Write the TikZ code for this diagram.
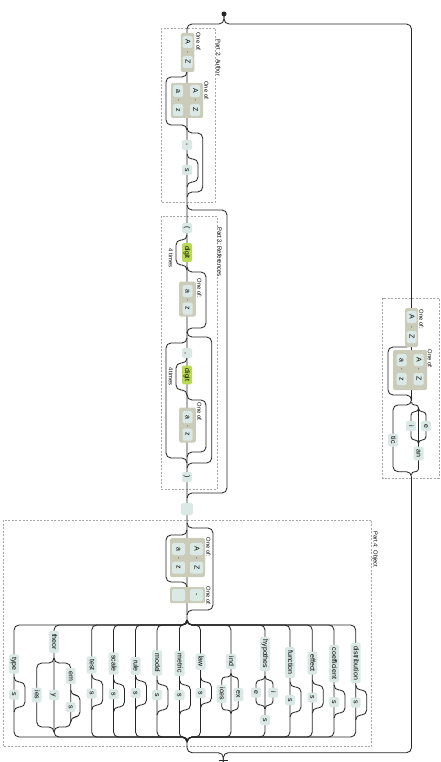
\documentclass[tikz,border=0pt]{standalone}
\usepackage{fontspec}
\setmainfont{Liberation Sans}
\usetikzlibrary{backgrounds}
\definecolor{litc}{HTML}{DAE9E5}
\definecolor{setc}{HTML}{CBCBBA}
\definecolor{escc}{HTML}{BADA55}
\tikzset{
 rail/.style={draw=black!85, line width=0.85pt, rounded corners=5pt},
 lit/.style={fill=litc, rounded corners=1.5pt, rotate=-90, inner xsep=3pt, inner ysep=0pt, minimum width=10pt, minimum height=10pt, text height=5pt, text depth=1.3pt, font=\fontsize{7}{8}\selectfont},
 item/.style={lit, minimum width=12pt},
 esc/.style={lit, fill=escc},
 cset/.style={fill=setc, rounded corners=1.5pt, rotate=-90, inner sep=0pt},
 lbl/.style={rotate=-90, inner sep=0pt, font=\fontsize{5.8}{6}\selectfont},
 dsym/.style={rotate=-90, inner sep=0pt, font=\fontsize{5}{6}\selectfont},
 subbox/.style={draw=black!35, dash pattern=on 2pt off 1.5pt, line width=0.5pt},
}
\begin{document}
\begin{tikzpicture}[x=1pt,y=-1pt]
\useasboundingbox (0,0) rectangle (440,762);
\begin{scope}[on background layer]
 % group boxes
 \draw[subbox] (161,28) rectangle (215,202);
 \draw[subbox] (161,216) rectangle (217,489);
 \draw[subbox] (3.3,520) rectangle (371.7,746.7);
 \draw[subbox] (382.7,298) rectangle (439,478);
 % top split and main lines
 \draw[rail] (224,14) -- (224,24) -- (187,24) -- (187,620);
 \draw[rail] (224,14) -- (224,24) -- (411.5,24) -- (411.5,400);
 \draw[rail] (187,742) -- (187,752.7) -- (223.3,752.7) -- (223.3,762);
 \draw[rail] (411.5,477) -- (411.5,752.7) -- (223.3,752.7) -- (223.3,762);
 % Part 2
 \draw[rail] (187,72) -- (187,77) -- (166,77) -- (166,125) -- (187,125) -- (187,130);
 \draw[rail] (187,128) -- (187,133) -- (202.7,133) -- (202.7,192) -- (187,192) -- (187,197);
 \draw[rail] (187,154) -- (187,159) -- (198,159) -- (198,182) -- (187,182) -- (187,187);
 % Part 3
 \draw[rail] (187,205) -- (187,210) -- (227,210) -- (227,493) -- (187,493) -- (187,498);
 \draw[rail] (187,235) -- (187,240) -- (176,240) -- (176,265) -- (187,265) -- (187,270);
 \draw[rail] (187,267) -- (187,272) -- (206,272) -- (206,328) -- (187,328) -- (187,333);
 \draw[rail] (187,332) -- (187,337) -- (211.7,337) -- (211.7,463) -- (187,463) -- (187,468);
 \draw[rail] (187,338) -- (187,343) -- (166,343) -- (166,458) -- (187,458) -- (187,463);
 \draw[rail] (187,358) -- (187,363) -- (176,363) -- (176,390) -- (187,390) -- (187,395);
 \draw[rail] (187,395) -- (187,400) -- (206,400) -- (206,452) -- (187,452) -- (187,457);
 % Part 4
 \draw[rail] (187,523) -- (187,528) -- (213,528) -- (213,610) -- (187,610) -- (187,615);
 \draw[rail] (187,530) -- (187,535) -- (166,535) -- (166,582) -- (187,582) -- (187,587);
 \foreach \xb/\rr in {14/5, 54/5, 91.7/5, 113.5/5, 135.5/5, 157/5, 179.5/3.5, 200.5/5, 231/5, 265/5, 290/5, 312.3/5, 334/5, 355.7/5}{
   \draw[rail, rounded corners=\rr pt] (187,625-\rr) -- (187,625) -- (\xb,625) -- (\xb,737) -- (187,737) -- (187,737+\rr);
 }
 \foreach \xb/\ya/\yb in {14/682/707, 91.7/680/705, 113.5/684/707, 135.5/681/705, 157/685/710, 179.5/685/710, 200.5/682/703, 290/687/712, 312.3/685/708, 334/690/713, 355.7/690/715}{
   \draw[rail] (\xb,\ya-5) -- (\xb,\ya) -- (\xb+11,\ya) -- (\xb+11,\yb) -- (\xb,\yb) -- (\xb,\yb+5);
 }
 % theor nested choice
 \foreach \xb in {70.7, 36.7}{
   \draw[rail] (54,658) -- (54,663) -- (\xb,663) -- (\xb,727) -- (54,727) -- (54,732);
 }
 \draw[rail] (70.7,690) -- (70.7,695) -- (80,695) -- (80,717) -- (70.7,717) -- (70.7,722);
 % ind nested choice
 \foreach \xb in {238.3, 221.7}{
   \draw[rail, rounded corners=3.5pt] (231,673.5) -- (231,677) -- (\xb,677) -- (\xb,710) -- (231,710) -- (231,713.5);
 }
 % hypothes nested choice
 \foreach \xb in {273, 256}{
   \draw[rail, rounded corners=4pt] (265,676) -- (265,680) -- (\xb,680) -- (\xb,705) -- (265,705) -- (265,709);
 }
 % Part 5
 \draw[rail] (411.5,342) -- (411.5,347) -- (388,347) -- (388,395) -- (411.5,395) -- (411.5,400);
 \draw[rail] (411.5,400) -- (411.5,405) -- (393,405) -- (393,471.7) -- (411.5,471.7) -- (411.5,476.7);
 \draw[rail, rounded corners=3pt] (411.5,402) -- (411.5,405) -- (418.5,405) -- (418.5,471.7) -- (411.5,471.7) -- (411.5,474.7);
 \foreach \xb in {426, 411}{
   \draw[rail, rounded corners=3.5pt] (418.5,408.2) -- (418.5,411.7) -- (\xb,411.7) -- (\xb,440) -- (418.5,440) -- (418.5,443.5);
 }
 \draw[black!85, line width=0.85pt] (219,760.5) -- (227.6,760.5);
\end{scope}
% start
\node[circle, fill=black!85, inner sep=0pt, minimum size=5pt] (start) at (224,14) {};
% ---------- Part 2
\node[lbl] (p2) at (218.5,58) {Part 2: Author};
\node[cset, minimum width=39pt, minimum height=13.5pt] (cs1) at (187.5,52.5) {};
\node[item] (cs1a) at (187.5,42) {A};
\node[dsym] (cs1d) at (187.5,52) {-};
\node[item] (cs1b) at (187.5,62) {Z};
\node[lbl] (cs1l) at (198.5,42) {One of:};
\node[cset, minimum width=35pt, minimum height=32.3pt] (cs2) at (187,100.5) {};
\node[item] (cs2a) at (195,91) {A};
\node[dsym] (cs2d) at (195,100.5) {-};
\node[item] (cs2b) at (195,110) {Z};
\node[item] (cs2c) at (178,91) {a};
\node[dsym] (cs2e) at (178,100.5) {-};
\node[item] (cs2f) at (178,110) {z};
\node[lbl] (cs2l) at (206.5,91) {One of:};
\node[lit] (hy) at (187,145) {-};
\node[lit] (s2) at (187,170) {s};
% ---------- Part 3
\node[lbl] (p3) at (219.7,252) {Part 3: References};
\node[lit] (lp) at (187,228) {(};
\node[esc] (dg1) at (187,252.5) {digit};
\node[lbl] (t1) at (171,258) {4 times};
\node[cset, minimum width=35pt, minimum height=16.7pt] (cs3) at (187.5,299) {};
\node[item] (cs3a) at (187.5,291) {a};
\node[dsym] (cs3d) at (187.5,300) {-};
\node[item] (cs3b) at (187.5,308.5) {z};
\node[lbl] (cs3l) at (199.5,288.5) {One of:};
\node[lit] (cm) at (187,353) {,};
\node[esc] (dg2) at (187,375) {digit};
\node[lbl] (t2) at (171,376.5) {4 times};
\node[cset, minimum width=35pt, minimum height=16.7pt] (cs4) at (187.5,425) {};
\node[item] (cs4a) at (187.5,417) {a};
\node[dsym] (cs4d) at (187.5,426) {-};
\node[item] (cs4b) at (187.5,434.5) {z};
\node[lbl] (cs4l) at (199.5,412) {One of:};
\node[lit] (rp) at (187,477) {)};
\node[lit, minimum width=12pt, minimum height=11.6pt] (sp) at (187,509) {};
% ---------- Part 4
\node[lbl] (p4) at (375,549.5) {Part 4: Object};
\node[cset, minimum width=39pt, minimum height=35pt] (cs5) at (187.5,557.5) {};
\node[item, minimum height=13pt] (cs5a) at (196.5,549) {A};
\node[dsym] (cs5d) at (196.5,558.3) {-};
\node[item, minimum height=13pt] (cs5b) at (196.5,567.5) {Z};
\node[item, minimum height=13pt] (cs5c) at (178.5,549) {a};
\node[dsym] (cs5e) at (178.5,558.3) {-};
\node[item, minimum height=13pt] (cs5f) at (178.5,567.5) {z};
\node[lbl] (cs5l) at (208.5,547.5) {One of:};
\node[cset, minimum width=16pt, minimum height=35pt] (cs6) at (187.5,595) {};
\node[item, minimum height=13pt] (cs6a) at (196.5,595) {-};
\node[item, minimum height=13pt] (cs6b) at (178.5,595) {};
\node[lbl] (cs6l) at (208.5,596) {One of:};
\foreach \xb/\w/\ty/\sy in {14/type/664/694.5, 91.7/test/665/693.5, 113.5/scale/663.5/694, 135.5/rule/666/693, 157/model/663/695, 179.5/metric/663.5/695, 200.5/law/661.5/693, 290/function/662.5/700, 312.3/effect/663/697.5, 334/coefficient/663.5/702, 355.7/distribution/663/702.5}{
  \node[lit] (w-\w) at (\xb,\ty) {\w};
  \node[lit] (s-\w) at (\xb,\sy) {s};
}
\node[lit] (theor) at (54,642) {theor};
\node[lit] (em) at (70.7,676) {em};
\node[lit] (ems) at (70.7,707) {s};
\node[lit] (yy) at (54,695) {y};
\node[lit] (ies) at (36.7,695) {ies};
\node[lit] (ind) at (231,661.5) {ind};
\node[lit] (ex) at (238.3,694.5) {ex};
\node[lit] (ices) at (221.7,694) {ices};
\node[lit] (hyp) at (265,654) {hypothes};
\node[lit] (hi) at (273,692.5) {i};
\node[lit] (he) at (256,692.5) {e};
\node[lit] (hs) at (265,720) {s};
% ---------- Part 5
\node[cset, minimum width=39pt, minimum height=13pt] (cs7) at (411.5,327.5) {};
\node[item] (cs7a) at (411.5,317) {A};
\node[dsym] (cs7d) at (411.5,327) {-};
\node[item] (cs7b) at (411.5,337) {Z};
\node[lbl] (cs7l) at (421.5,319.5) {One of:};
\node[cset, minimum width=40pt, minimum height=34pt] (cs8) at (410,370) {};
\node[item] (cs8a) at (418.5,360) {A};
\node[dsym] (cs8d) at (418.5,369.5) {-};
\node[item] (cs8b) at (418.5,379) {Z};
\node[item] (cs8c) at (401.5,360) {a};
\node[dsym] (cs8e) at (401.5,369.5) {-};
\node[item] (cs8f) at (401.5,379) {z};
\node[lbl] (cs8l) at (430,359) {One of:};
\node[lit] (tic) at (393,440) {tic};
\node[lit] (pe) at (426,426) {e};
\node[lit] (pi) at (411,426) {i};
\node[lit] (an) at (418.5,453.5) {an};
\end{tikzpicture}
\end{document}
